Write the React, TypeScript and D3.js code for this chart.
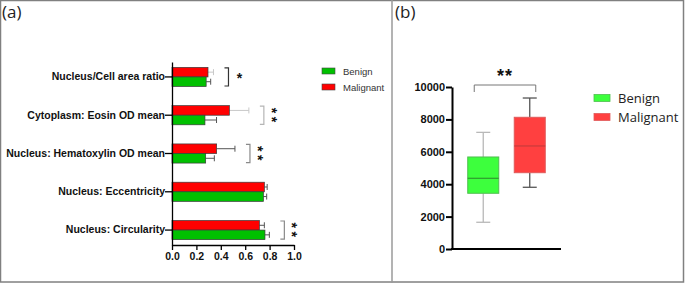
import React, { useEffect, useRef } from 'react';
import * as d3 from 'd3';

// Panel (a): morphology features, mean ± error
const features = [
  'Nucleus/Cell area ratio',
  'Cytoplasm: Eosin OD mean',
  'Nucleus: Hematoxylin OD mean',
  'Nucleus: Eccentricity',
  'Nucleus: Circularity',
];
const benignMean = [0.28, 0.27, 0.276, 0.749, 0.762];
const benignErr = [0.037, 0.095, 0.071, 0.027, 0.036];
const malignantMean = [0.295, 0.47, 0.366, 0.757, 0.716];
const malignantErr = [0.045, 0.16, 0.15, 0.023, 0.041];
const featureSig = ['*', '**', '**', '', '**'];
const xTicksA = [0, 0.2, 0.4, 0.6, 0.8, 1.0];

// Panel (b): box plot
const groups = ['Benign', 'Malignant'];
const boxMin = [1650, 3810];
const boxQ1 = [3440, 4710];
const boxMedian = [4365, 6360];
const boxQ3 = [5680, 8130];
const boxMax = [7200, 9320];
const yTicksB = [0, 2000, 4000, 6000, 8000, 10000];

const W = 685;
const H = 283;

const App: React.FC = () => {
  const svgRef = useRef<SVGSVGElement>(null);

  useEffect(() => {
    if (!svgRef.current) return;
    const svg = d3.select(svgRef.current);
    svg.selectAll('*').remove();

    const bold = "'Liberation Sans', Arial, sans-serif";
    const soft = "'Open Sans', 'Noto Sans', sans-serif";

    // frame
    svg.append('rect').attr('x', 0.5).attr('y', 0.5).attr('width', W - 2).attr('height', H - 1.5)
      .attr('fill', 'white').attr('stroke', '#808080').attr('stroke-width', 1.5);
    svg.append('line').attr('x1', 392).attr('x2', 392).attr('y1', 0).attr('y2', H)
      .attr('stroke', '#9a9a9a').attr('stroke-width', 1.5);

    svg.append('text').attr('x', 2).attr('y', 18).style('font-family', soft).style('font-size', '17px')
      .style('fill', '#222').text('(a)');
    svg.append('text').attr('x', 395).attr('y', 18).style('font-family', soft).style('font-size', '17px')
      .style('fill', '#222').text('(b)');

    // ---------- panel (a)
    const x = d3.scaleLinear().domain([0, 1]).range([172, 294]);
    const y = d3.scaleBand<string>().domain(features).range([62, 245]).paddingInner(0.5).paddingOuter(0.14);
    const sub = d3.scaleBand<string>().domain(['Malignant', 'Benign']).range([0, y.bandwidth()]);
    const colA: Record<string, string> = { Benign: '#00c000', Malignant: '#ff0000' };

    const ga = svg.append('g');
    features.forEach((f, i) => {
      const top = y(f) || 0;
      const rows = [
        { s: 'Malignant', m: malignantMean[i], e: malignantErr[i], faint: i < 2 },
        { s: 'Benign', m: benignMean[i], e: benignErr[i], faint: false },
      ];
      rows.forEach(r => {
        const by = top + (sub(r.s) || 0);
        const bh = sub.bandwidth();
        const ec = r.faint ? '#c8c8c8' : '#555';
        ga.append('line').attr('x1', x(r.m)).attr('x2', x(r.m + r.e))
          .attr('y1', by + bh / 2).attr('y2', by + bh / 2).attr('stroke', ec).attr('stroke-width', 1);
        ga.append('line').attr('x1', x(r.m + r.e)).attr('x2', x(r.m + r.e))
          .attr('y1', by + bh / 2 - 3).attr('y2', by + bh / 2 + 3).attr('stroke', ec).attr('stroke-width', 1);
        ga.append('rect').attr('x', x(0)).attr('y', by).attr('width', x(r.m) - x(0)).attr('height', bh)
          .attr('fill', colA[r.s]).attr('stroke', '#3a3a3a').attr('stroke-width', 0.7);
      });

      if (featureSig[i]) {
        const end = Math.max(malignantMean[i] + malignantErr[i], benignMean[i] + benignErr[i]);
        const bx = x(end) + 15;
        const t = top + 0.5;
        const b = top + y.bandwidth() - 0.5;
        const bc = i === 0 ? '#333' : i === 1 ? '#b5b5b5' : '#8a8a8a';
        ga.append('path').attr('d', `M${bx - 4},${t}H${bx}V${b}H${bx - 4}`)
          .attr('fill', 'none').attr('stroke', bc).attr('stroke-width', 1.2);
        const mid = top + y.bandwidth() / 2;
        const cx = bx + 11;
        if (featureSig[i].length === 1) {
          ga.append('text').attr('x', cx).attr('y', mid + 6.5).attr('text-anchor', 'middle')
            .style('font-family', bold).style('font-weight', 'bold').style('font-size', '14px')
            .style('fill', '#111').text(featureSig[i]);
        } else {
          // stacked stars: the label is turned a quarter
          ga.append('text').attr('transform', `translate(${cx - 8},${mid + 1.5}) rotate(90)`)
            .attr('text-anchor', 'middle').attr('letter-spacing', '3.5px')
            .style('font-family', bold).style('font-weight', 'bold').style('font-size', '14px')
            .style('fill', '#111').text(featureSig[i]);
        }
      }
    });

    // axes (a)
    const axA = ga.append('g').attr('transform', 'translate(0,245)')
      .call(d3.axisBottom(x).tickValues(xTicksA).tickFormat(d3.format('.1f')).tickSize(5).tickSizeOuter(0));
    axA.select('.domain').attr('stroke', '#000').attr('stroke-width', 1.3);
    axA.selectAll('.tick line').attr('stroke', '#000').attr('stroke-width', 1.3);
    axA.selectAll('.tick text').attr('y', 8).style('font-family', bold).style('font-weight', 'bold')
      .style('font-size', '10.5px').style('fill', '#111');

    const ayA = ga.append('g').attr('transform', 'translate(172,0)')
      .call(d3.axisLeft(y).tickSize(7).tickSizeOuter(0));
    ayA.select('.domain').attr('stroke', '#000').attr('stroke-width', 1.3);
    ayA.selectAll('.tick line').attr('stroke', '#000').attr('stroke-width', 1.3);
    ayA.selectAll('.tick text').attr('x', -7).style('font-family', bold).style('font-weight', 'bold')
      .style('font-size', '10.5px').style('fill', '#111');

    // legend (a)
    ['Benign', 'Malignant'].forEach((s, k) => {
      const ly = 71 + k * 16;
      ga.append('rect').attr('x', 322).attr('y', ly - 3).attr('width', 13).attr('height', 6)
        .attr('fill', colA[s]).attr('stroke', '#444').attr('stroke-width', 0.6);
      ga.append('text').attr('x', 343).attr('y', ly + 3.5).style('font-family', bold)
        .style('font-size', '9.5px').style('fill', '#333').text(s);
    });

    // ---------- panel (b)
    const xb = d3.scalePoint<string>().domain(groups).range([452, 561]).padding(0.672);
    const yb = d3.scaleLinear().domain([0, 10000]).range([249, 87]);
    const fillB = ['#3dff3d', '#ff4040'];
    const lineB = ['#2f9a2f', '#c83c3c'];
    const whiskB = ['#b8b8b8', '#555'];
    const boxW = 31;
    const capW = 14;

    const gb = svg.append('g');
    groups.forEach((g, i) => {
      const cx = xb(g) || 0;
      gb.append('line').attr('x1', cx).attr('x2', cx).attr('y1', yb(boxMax[i])).attr('y2', yb(boxQ3[i]))
        .attr('stroke', whiskB[i]).attr('stroke-width', 1.3);
      gb.append('line').attr('x1', cx).attr('x2', cx).attr('y1', yb(boxQ1[i])).attr('y2', yb(boxMin[i]))
        .attr('stroke', whiskB[i]).attr('stroke-width', 1.3);
      [boxMax[i], boxMin[i]].forEach(v => {
        gb.append('line').attr('x1', cx - capW / 2).attr('x2', cx + capW / 2).attr('y1', yb(v)).attr('y2', yb(v))
          .attr('stroke', whiskB[i]).attr('stroke-width', 1.3);
      });
      gb.append('rect').attr('x', cx - boxW / 2).attr('y', yb(boxQ3[i])).attr('width', boxW)
        .attr('height', yb(boxQ1[i]) - yb(boxQ3[i])).attr('fill', fillB[i])
        .attr('stroke', i === 0 ? '#4fbf4f' : '#e05a5a').attr('stroke-width', 1);
      gb.append('line').attr('x1', cx - boxW / 2).attr('x2', cx + boxW / 2)
        .attr('y1', yb(boxMedian[i])).attr('y2', yb(boxMedian[i]))
        .attr('stroke', lineB[i]).attr('stroke-width', 1.2);
    });

    // significance (b)
    const x0 = (xb(groups[0]) || 0) - 9;
    const x1 = (xb(groups[1]) || 0) + 6;
    gb.append('path').attr('d', `M${x0},92V85H${x1}V92`).attr('fill', 'none')
      .attr('stroke', '#777').attr('stroke-width', 1);
    gb.append('text').attr('x', (x0 + x1) / 2).attr('y', 82).attr('text-anchor', 'middle')
      .attr('letter-spacing', '1px')
      .style('font-family', bold).style('font-weight', 'bold').style('font-size', '18px')
      .style('fill', '#111').text('**');

    const ayB = gb.append('g').attr('transform', 'translate(452,0)')
      .call(d3.axisLeft(yb).tickValues(yTicksB).tickFormat(d3.format('d')).tickSize(6).tickSizeOuter(0));
    ayB.select('.domain').attr('stroke', '#000').attr('stroke-width', 2);
    ayB.selectAll('.tick line').attr('stroke', '#000').attr('stroke-width', 2);
    ayB.selectAll('.tick text').attr('x', -7).style('font-family', bold).style('font-weight', 'bold')
      .style('font-size', '11px').style('fill', '#111');
    gb.append('line').attr('x1', 451).attr('x2', 561).attr('y1', 249).attr('y2', 249)
      .attr('stroke', '#000').attr('stroke-width', 2);

    // legend (b)
    groups.forEach((g, i) => {
      const ly = 98 + i * 19;
      gb.append('rect').attr('x', 594).attr('y', ly - 3.5).attr('width', 16).attr('height', 7)
        .attr('fill', fillB[i]).attr('stroke', i === 0 ? '#4fbf4f' : '#e05a5a').attr('stroke-width', 0.8);
      gb.append('text').attr('x', 618).attr('y', ly + 4.5).style('font-family', soft)
        .style('font-size', '13px').style('fill', '#222').text(g);
    });
  }, []);

  return (
    <div style={{ position: 'absolute', left: 0, top: 0, width: W, height: H, background: 'white' }}>
      <svg ref={svgRef} width={W} height={H}></svg>
    </div>
  );
};

export default App;
